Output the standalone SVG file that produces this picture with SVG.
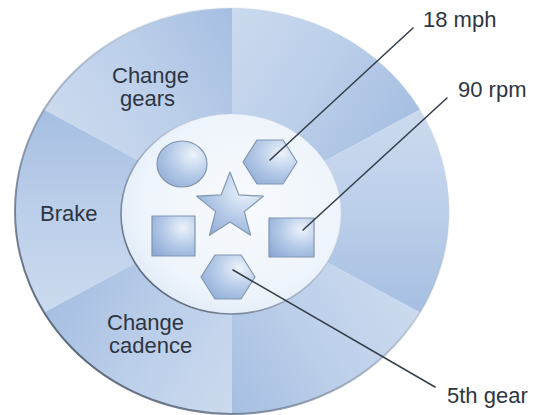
<svg xmlns="http://www.w3.org/2000/svg" width="535" height="415" viewBox="0 0 535 415">
  <defs>
    <!-- each ring sector shades from its leading edge (dark) to its trailing edge (light) -->
    <linearGradient id="sectorShade" gradientUnits="userSpaceOnUse" x1="86.6" y1="50" x2="-86.6" y2="-50">
      <stop offset="0" stop-color="#a6bfe1"/>
      <stop offset="0.5" stop-color="#bccfea"/>
      <stop offset="1" stop-color="#cbdaee"/>
    </linearGradient>
    <linearGradient id="rimShade" x1="0.1" y1="0.9" x2="0.9" y2="0.1">
      <stop offset="0" stop-color="#4a5768" stop-opacity="0.95"/>
      <stop offset="0.5" stop-color="#7f8fa5" stop-opacity="0.5"/>
      <stop offset="1" stop-color="#ffffff" stop-opacity="0"/>
    </linearGradient>
    <radialGradient id="hubFill" cx="0.55" cy="0.45" r="0.6">
      <stop offset="0" stop-color="#f8fbfe"/>
      <stop offset="0.75" stop-color="#eef4fb"/>
      <stop offset="1" stop-color="#e0ebf7"/>
    </radialGradient>
    <radialGradient id="shapeFill" cx="0.72" cy="0.3" r="0.95">
      <stop offset="0" stop-color="#ecf3fb"/>
      <stop offset="0.5" stop-color="#b3c9e7"/>
      <stop offset="1" stop-color="#89a7d3"/>
    </radialGradient>
    <path id="sector" d="M0 0 L175.8 -101.5 A203 203 0 0 0 0 -203 Z"/>
    <style>
      .sector { fill: url(#sectorShade); }
      .shape { fill: url(#shapeFill); stroke: #8296b0; stroke-width: 1.2; stroke-linejoin: round; }
      .label { font-family: "Liberation Sans", Arial, sans-serif; font-size: 22px; fill: #2e3541; }
      .leader { stroke: #36404c; stroke-width: 1.6; fill: none; stroke-linecap: round; }
    </style>
  </defs>

  <rect width="535" height="415" fill="#ffffff"/>

  <!-- outer ring of six behaviour sectors -->
  <g id="ring" transform="translate(232 211) scale(1.07 1)">
    <use href="#sector" class="sector"/>
    <use href="#sector" class="sector" transform="rotate(-60)"/>
    <use href="#sector" class="sector" transform="rotate(-120)"/>
    <use href="#sector" class="sector" transform="rotate(-180)"/>
    <use href="#sector" class="sector" transform="rotate(-240)"/>
    <use href="#sector" class="sector" transform="rotate(-300)"/>
  </g>
  <ellipse cx="232" cy="211" rx="217" ry="203" fill="none" stroke="url(#rimShade)" stroke-width="2"/>

  <!-- inner hub holding the state shapes -->
  <g id="hub">
    <ellipse cx="231" cy="214" rx="110" ry="100" fill="url(#hubFill)" stroke="url(#rimShade)" stroke-width="1.6"/>
  </g>

  <g id="sector-labels">
    <g id="change-gears">
      <text class="label" x="112" y="83">Change</text>
      <text class="label" x="120" y="106">gears</text>
    </g>
    <g id="brake">
      <text class="label" x="40" y="221">Brake</text>
    </g>
    <g id="change-cadence">
      <text class="label" x="107" y="330">Change</text>
      <text class="label" x="109" y="353">cadence</text>
    </g>
  </g>

  <g id="state-shapes">
    <g id="circle"><ellipse class="shape" cx="182" cy="164" rx="25" ry="23"/></g>
    <g id="hexagon-speed"><polygon class="shape" points="243,162 257,140 283,140 297,162 283,184 257,184"/></g>
    <g id="star"><polygon class="shape" points="230,172 238.8,194.9 263.3,196.2 244.3,211.6 250.6,235.3 230,222 209.4,235.3 215.7,211.6 196.7,196.2 221.2,194.9"/></g>
    <g id="square-left"><rect class="shape" x="152" y="216" width="43" height="40"/></g>
    <g id="square-cadence"><rect class="shape" x="269" y="218" width="45" height="39"/></g>
    <g id="hexagon-gear"><polygon class="shape" points="201,277 215,255 241,255 255,277 241,299 215,299"/></g>
  </g>

  <!-- leader lines from state shapes to their values -->
  <g id="connectors">
    <line class="leader" x1="270" y1="160" x2="413" y2="28"/>
    <line class="leader" x1="303" y1="230" x2="447" y2="98"/>
    <line class="leader" x1="233" y1="270" x2="435" y2="387"/>
  </g>

  <g id="value-labels">
    <g id="speed"><text class="label" x="423" y="27">18 mph</text></g>
    <g id="cadence"><text class="label" x="458" y="97">90 rpm</text></g>
    <g id="gear"><text class="label" x="447" y="403">5th gear</text></g>
  </g>
</svg>
